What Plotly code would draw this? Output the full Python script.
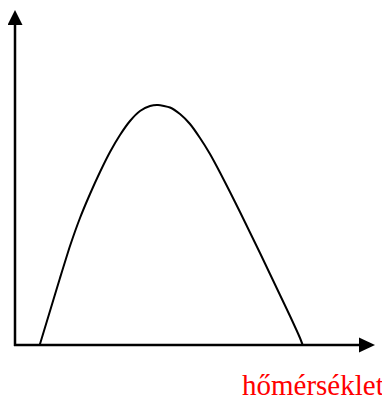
import plotly.graph_objects as go

# curve (origin = axis crossing, units ~ px)
temp = [24.7, 35, 45, 55, 65, 75, 85, 95, 105, 115, 125, 135, 143,
        155, 165, 175, 185, 195, 205, 215, 225, 235, 245, 255, 265, 275, 285, 287.7]
value = [0, 34, 67, 99, 127, 151, 173, 193, 210, 224, 234, 239, 240,
         237.5, 231, 221, 207, 191, 172.5, 153, 133, 112.5, 92, 71, 50, 29, 7, 0]

x_label = "hőmérséklet"

# page body has an 8px margin, so the figure is sized/ranged to land on the same pixels
X_MIN, X_MAX = -7, 375
Y_MIN, Y_MAX = -54, 337

fig = go.Figure()
fig.add_trace(go.Scatter(
    x=temp, y=value, mode="lines",
    line=dict(color="black", width=2, shape="spline", smoothing=0.5),
    hoverinfo="skip", showlegend=False,
))

# hand-drawn axes with arrow heads
fig.add_shape(type="line", x0=0, y0=-1, x1=0, y1=322,
              line=dict(color="black", width=2.5))
fig.add_shape(type="path", path="M -7.5 320 L 7.5 320 L 0 335 Z",
              fillcolor="black", line=dict(color="black", width=0))
fig.add_shape(type="line", x0=-1, y0=0, x1=346, y1=0,
              line=dict(color="black", width=2.5))
fig.add_shape(type="path", path="M 344 7.5 L 344 -7.5 L 360 0 Z",
              fillcolor="black", line=dict(color="black", width=0))

fig.add_annotation(
    x=370, y=-40, xref="x", yref="y", text=x_label, showarrow=False,
    xanchor="right", yanchor="middle", borderpad=0,
    font=dict(family="Liberation Serif, Times New Roman, serif", size=29, color="#ff0000"),
)

fig.update_layout(
    width=382, height=391,
    margin=dict(l=0, r=0, t=0, b=0),
    paper_bgcolor="white", plot_bgcolor="white",
    xaxis=dict(range=[X_MIN, X_MAX], visible=False, fixedrange=True),
    yaxis=dict(range=[Y_MIN, Y_MAX], visible=False, fixedrange=True),
)

fig.write_html("out.html")
